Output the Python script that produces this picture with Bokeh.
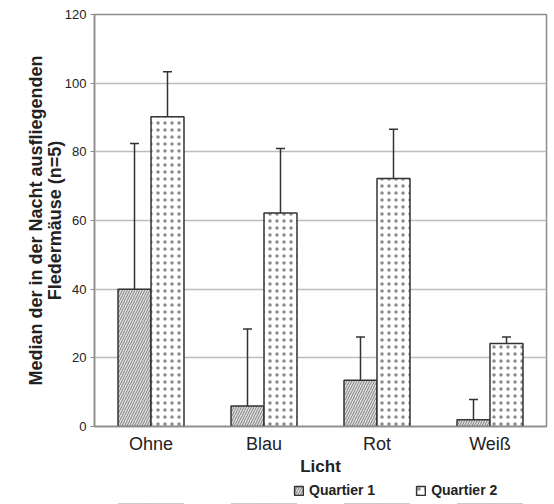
from bokeh.plotting import figure
from bokeh.models import ColumnDataSource, Whisker, Legend, LegendItem, TeeHead
from bokeh.transform import dodge
from bokeh.layouts import column
from bokeh.embed import file_html
from bokeh.resources import INLINE

categories = ["Ohne", "Blau", "Rot", "Weiß"]
q1 = [40, 6, 13.5, 2]
q1_lo = [32, 4.4, 5.2, 1.8]
q1_hi = [82.4, 28.4, 26.1, 7.9]
q2 = [90.2, 62.2, 72.2, 24.2]
q2_lo = [89.5, 45, 49, 11.7]
q2_hi = [103.3, 81, 86.6, 26.1]
series_names = ["Quartier 1", "Quartier 2"]
y_ticks = [0, 20, 40, 60, 80, 100, 120]

src = ColumnDataSource(dict(cat=categories, q1=q1, q1_lo=q1_lo, q1_hi=q1_hi,
                            q2=q2, q2_lo=q2_lo, q2_hi=q2_hi))

style1 = dict(fill_color="#e0e0e0", line_color="#333333", line_width=1.5,
              hatch_pattern="/", hatch_color="#666666", hatch_scale=5, hatch_weight=0.8)
style2 = dict(fill_color="white", line_color="#333333", line_width=1.5,
              hatch_pattern=".", hatch_color="#8a8a8a", hatch_scale=7, hatch_weight=1)

p = figure(x_range=categories, y_range=(0, 120), output_backend="svg",
           toolbar_location=None, frame_width=452, frame_height=412,
           min_border_left=94, min_border_right=6, min_border_top=14,
           min_border_bottom=50)
p.background_fill_color = "white"
p.border_fill_color = "white"
p.outline_line_color = "#8c8c8c"
p.outline_line_width = 1.5

bw = 0.292
r1 = p.vbar(x=dodge("cat", -bw / 2, range=p.x_range), top="q1", width=bw, source=src, **style1)
r2 = p.vbar(x=dodge("cat", bw / 2, range=p.x_range), top="q2", width=bw, source=src, **style2)

for off, lo, hi in [(-bw / 2, "q1_lo", "q1_hi"), (bw / 2, "q2_lo", "q2_hi")]:
    w = Whisker(base=dodge("cat", off, range=p.x_range), lower=lo, upper=hi, source=src,
                line_color="#333333", line_width=1.5,
                upper_head=TeeHead(size=9, line_color="#333333", line_width=1.5),
                lower_head=TeeHead(size=9, line_color="#333333", line_width=1.5))
    p.add_layout(w)

p.xgrid.grid_line_color = None
p.ygrid.grid_line_color = "#bdbdbd"
p.ygrid.grid_line_width = 1.5
p.yaxis.ticker = y_ticks

p.yaxis.axis_line_color = "#8c8c8c"
p.yaxis.axis_line_width = 1.5
p.yaxis.major_tick_line_color = "#8c8c8c"
p.yaxis.major_tick_out = 4
p.yaxis.major_tick_in = 0
p.yaxis.minor_tick_line_color = None
p.yaxis.major_label_text_font = "Liberation Sans"
p.yaxis.major_label_text_font_size = "13px"
p.yaxis.major_label_text_color = "#222222"
p.yaxis.major_label_standoff = 4
p.yaxis.axis_label = "Median der in der Nacht ausfliegenden\nFledermäuse (n=5)"
p.yaxis.axis_label_text_font = "Liberation Sans"
p.yaxis.axis_label_text_font_style = "bold"
p.yaxis.axis_label_text_font_size = "18px"
p.yaxis.axis_label_text_line_height = 0.95
p.yaxis.axis_label_text_color = "#222222"
p.yaxis.axis_label_standoff = -3

p.xaxis.axis_line_color = "#8c8c8c"
p.xaxis.axis_line_width = 1.5
p.xaxis.major_tick_line_color = None
p.xaxis.major_tick_out = 0
p.xaxis.major_label_text_font = "Liberation Sans"
p.xaxis.major_label_text_font_size = "18px"
p.xaxis.major_label_text_color = "#222222"
p.xaxis.major_label_standoff = 7
p.xaxis.axis_label = "Licht"
p.xaxis.axis_label_text_font = "Liberation Sans"
p.xaxis.axis_label_text_font_style = "bold"
p.xaxis.axis_label_text_font_size = "17px"
p.xaxis.axis_label_text_color = "#222222"
p.xaxis.axis_label_standoff = 0

# legend strip below the chart (its bars lie outside its visible range)
lf = figure(width=552, height=26, x_range=categories, y_range=(1000, 1001),
            output_backend="svg", toolbar_location=None, min_border=0,
            x_axis_type=None, y_axis_type=None)
lf.outline_line_color = None
lf.grid.grid_line_color = None
lf.background_fill_color = "white"
lf.border_fill_color = "white"
lr1 = lf.vbar(x=dodge("cat", -bw / 2, range=lf.x_range), top="q1", width=bw, source=src, **style1)
lr2 = lf.vbar(x=dodge("cat", bw / 2, range=lf.x_range), top="q2", width=bw, source=src, **style2)

legend = Legend(items=[LegendItem(label=series_names[0], renderers=[lr1], index=0),
                       LegendItem(label=series_names[1], renderers=[lr2], index=0)],
                orientation="horizontal", location=(199, 6),
                border_line_color=None, background_fill_alpha=0,
                padding=0, margin=0, spacing=40, label_standoff=5,
                glyph_width=11, glyph_height=11,
                label_text_font="Liberation Sans", label_text_font_style="bold",
                label_text_font_size="14px", label_text_color="#222222")
lf.add_layout(legend, "center")

layout = column(p, lf, spacing=0)
open("out.html", "w").write(file_html(layout, INLINE))
